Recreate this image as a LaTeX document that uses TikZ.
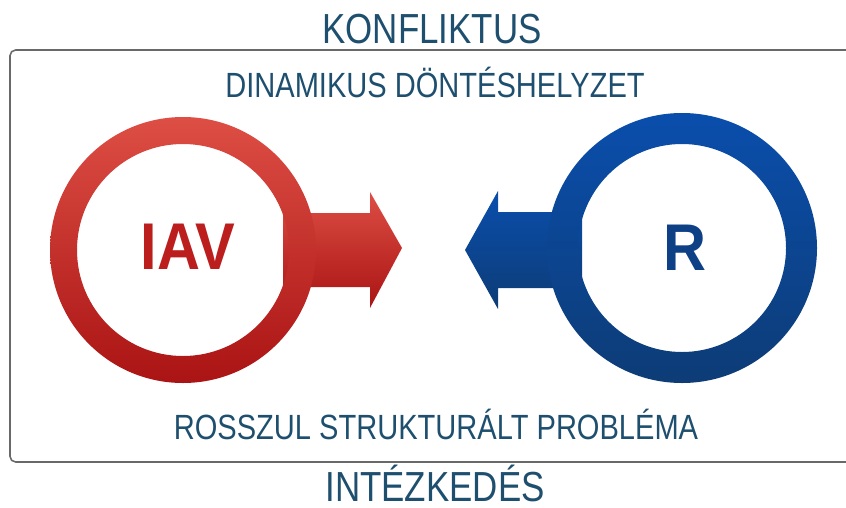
\documentclass[tikz,border=0pt]{standalone}
\usepackage{fontspec}
\setmainfont[FakeStretch=0.83]{Liberation Sans}
\newfontfamily\ringfont[FakeStretch=0.9]{Liberation Sans}
\usetikzlibrary{positioning, calc}
\definecolor{titleblue}{RGB}{30,79,111}
\definecolor{framegray}{RGB}{105,105,105}
\definecolor{redtop}{RGB}{221,78,68}
\definecolor{redbottom}{RGB}{170,20,20}
\definecolor{bluetop}{RGB}{10,78,172}
\definecolor{bluebottom}{RGB}{13,60,118}
\definecolor{iavred}{RGB}{188,30,30}
\definecolor{rblue}{RGB}{14,64,134}

\begin{document}
\begin{tikzpicture}[
    x=0.025cm, y=-0.025cm,
    % Text styles
    bigtitle/.style={
        text=titleblue, font=\fontsize{29.9}{34}\selectfont,
        inner sep=0pt, anchor=base
    },
    subtitle/.style={
        text=titleblue, font=\fontsize{24.9}{28}\selectfont,
        inner sep=0pt, anchor=base
    },
    ringlabel/.style={
        font=\ringfont\bfseries\fontsize{47}{52}\selectfont,
        inner sep=0pt
    },
    % Fill styles
    redshade/.style={top color=redtop, bottom color=redbottom},
    blueshade/.style={top color=bluetop, bottom color=bluebottom},
    frame/.style={draw=framegray, line width=1.1pt, rounded corners=4pt},
]
\useasboundingbox (0,0) rectangle (846,507);

% ===== FRAME =====
\draw[frame] (846,50) -- (10,50) -- (10,462) -- (846,462);

% ===== TITLES =====
\node[bigtitle] (konf) at (432,43) {KONFLIKTUS};
\node[subtitle] (dinam) at (435,97) {DINAMIKUS DÖNTÉSHELYZET};
\node[subtitle] (rossz) at (436,439) {ROSSZUL STRUKTURÁLT PROBLÉMA};
\node[bigtitle] (intez) at (435,501) {INTÉZKEDÉS};

% ===== RING CENTRES =====
\coordinate (iavc) at (183,250);
\coordinate (rc) at (682,248);

% ===== LABELS =====
\node[ringlabel, text=iavred] (iav) at ($(iavc)+(5,-3)$) {IAV};
\node[ringlabel, text=rblue] (r) at ($(rc)+(3,0)$) {R};

% ===== ARROWS =====
% IAV pushes right
\path[redshade] ($(iavc)+(100,-37)$) -- ($(iavc)+(187,-37)$) -- ($(iavc)+(187,-58)$)
    -- ($(iavc)+(219,-2)$) -- ($(iavc)+(187,58)$) -- ($(iavc)+(187,37)$)
    -- ($(iavc)+(100,37)$) -- cycle;
% R pushes left
\path[blueshade] ($(rc)+(-100,-36)$) -- ($(rc)+(-184,-36)$) -- ($(rc)+(-184,-57)$)
    -- ($(rc)+(-217,2)$) -- ($(rc)+(-184,61)$) -- ($(rc)+(-184,40)$)
    -- ($(rc)+(-100,40)$) -- cycle;

% ===== RINGS =====
\path[redshade, even odd rule] (iavc) circle[radius=133] (iavc) circle[radius=106];
\path[blueshade, even odd rule] (rc) circle[radius=135] (rc) circle[radius=104];

\end{tikzpicture}
\end{document}
